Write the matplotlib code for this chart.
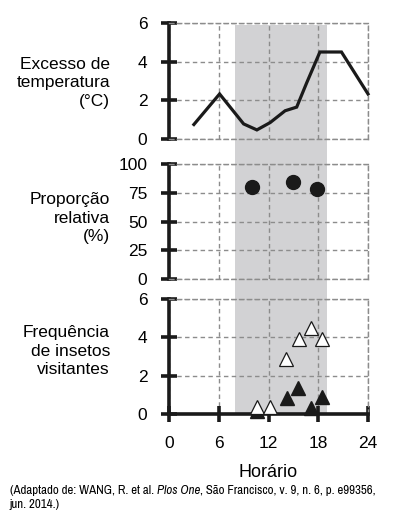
import matplotlib
matplotlib.use("Agg")
import matplotlib.pyplot as plt
from matplotlib.patches import Rectangle
from matplotlib.transforms import blended_transform_factory
from matplotlib import font_manager

plt.rcParams['font.family'] = ['Liberation Sans', 'DejaVu Sans']

# ---- data ----
temp_hours = [3.0, 6.1, 9.0, 10.6, 12.2, 14.0, 15.4, 16.6, 18.2, 20.8, 24.0]
temp_excess = [0.75, 2.33, 0.78, 0.47, 0.85, 1.46, 1.65, 2.9, 4.5, 4.5, 2.33]

prop_hours = [10.0, 14.9, 17.8]
prop_values = [80, 84, 78]

white_hours = [10.6, 12.2, 14.1, 15.7, 17.1, 18.4]
white_freq = [0.38, 0.38, 2.87, 3.9, 4.5, 3.9]

black_hours = [10.6, 14.2, 15.5, 17.1, 18.4]
black_freq = [0.15, 0.85, 1.35, 0.33, 0.9]

shade_start, shade_end = 8, 19
x_ticks = [0, 6, 12, 18, 24]
temp_ticks = [0, 2, 4, 6]
prop_ticks = [0, 25, 50, 75, 100]
freq_ticks = [0, 2, 4, 6]

ylabels = ["Excesso de\ntemperatura\n(°C)",
           "Proporção\nrelativa\n(%)",
           "Frequência\nde insetos\nvisitantes"]

caption_parts = ["(Adaptado de: WANG, R. et al. ", "Plos One",
                 ", São Francisco, v. 9, n. 6, p. e99356,"]
caption_line2 = "jun. 2014.)"

W, H = 395, 520
fig = plt.figure(figsize=(W / 100, H / 100), dpi=100)

left = 169 / W
width = (368 - 169) / W
panels_px = [(23, 139), (164, 279), (299, 414)]
label_centers_px = [83, 218, 351]
axes = []
for (t, b) in panels_px:
    ax = fig.add_axes([left, 1 - b / H, width, (b - t) / H])
    ax.patch.set_alpha(0)
    axes.append(ax)

GRAY = '#8c8c8c'
DASH = (0, (3.2, 2.4))
grid_kw = dict(color=GRAY, lw=1.0, ls=DASH)

for i, ax in enumerate(axes):
    ax.set_xlim(0, 24)
    ax.set_xticks(x_ticks)
    ax.grid(True, **grid_kw)
    for s in ['top', 'right', 'bottom']:
        ax.spines[s].set_color(GRAY)
        ax.spines[s].set_linewidth(1.0)
        ax.spines[s].set_linestyle(DASH)
    ax.spines['left'].set_linewidth(2.6)
    ax.spines['left'].set_color('#1a1a1a')
    ax.tick_params(axis='y', direction='inout', length=11, width=2.6,
                   color='#1a1a1a', pad=10, labelsize=12.5)
    if i < 2:
        ax.tick_params(axis='x', length=0, labelbottom=False)
    else:
        ax.spines['bottom'].set_linewidth(2.6)
        ax.spines['bottom'].set_color('#1a1a1a')
        ax.spines['bottom'].set_linestyle('-')
        ax.tick_params(axis='x', direction='inout', length=11, width=2.6,
                       color='#1a1a1a', pad=10, labelsize=12.5)
    ax.set_axisbelow(True)

# top: temperature
ax0 = axes[0]
ax0.set_ylim(0, 6)
ax0.set_yticks(temp_ticks)
ax0.plot(temp_hours, temp_excess, color='#1a1a1a', lw=2.3, zorder=3,
         solid_joinstyle='miter', clip_on=False)

# middle: proportion
ax1 = axes[1]
ax1.set_ylim(0, 100)
ax1.set_yticks(prop_ticks)
ax1.plot(prop_hours, prop_values, 'o', color='#1a1a1a', ms=10, zorder=3)

# bottom: insect frequency
ax2 = axes[2]
ax2.set_ylim(0, 6)
ax2.set_yticks(freq_ticks)
ax2.plot(black_hours, black_freq, '^', color='#1a1a1a', mec='#1a1a1a',
         ms=10.5, zorder=3, clip_on=False)
ax2.plot(white_hours, white_freq, '^', color='white', mec='#1a1a1a',
         mew=0.9, ms=10.5, zorder=4, clip_on=False)
ax2.set_xlabel("Horário", fontsize=13, labelpad=10)

# shaded period spanning all panels
trans = blended_transform_factory(ax2.transData, fig.transFigure)
y0 = 1 - 414 / H
y1 = 1 - 25 / H
fig.patches.append(Rectangle((shade_start, y0), shade_end - shade_start, y1 - y0,
                             transform=trans, facecolor='#d2d2d4',
                             edgecolor='none', zorder=-1))

# y labels
for cy, lab in zip(label_centers_px, ylabels):
    fig.text(110 / W, 1 - cy / H, lab, ha='right', va='center',
             fontsize=12.5, linespacing=1.3)

# caption (condensed font if available, else fitted size)
names = {f.name for f in font_manager.fontManager.ttflist}
narrow = [n for n in sorted(names) if ('Narrow' in n or 'Condensed' in n)]
cap_fam = ([narrow[0]] if narrow else []) + ['Liberation Sans', 'DejaVu Sans']
cap_size = 9.5
line1_y = 1 - 494 / H
line2_y = 1 - 508 / H
texts = []
for j, part in enumerate(caption_parts):
    texts.append(fig.text(10 / W, line1_y, part, fontsize=cap_size,
                          family=cap_fam, style='italic' if j == 1 else 'normal',
                          ha='left', va='baseline'))
t4 = fig.text(10 / W, line2_y, caption_line2, fontsize=cap_size,
              family=cap_fam, ha='left', va='baseline')

r = fig.canvas.get_renderer()
inv = fig.transFigure.inverted()


def layout_caption():
    x = 10 / W
    for t in texts:
        t.set_position((x, line1_y))
        x = inv.transform(t.get_window_extent(r))[1][0]
    return x


x_end = layout_caption()
target = 378 / W
scale = (target - 10 / W) / (x_end - 10 / W)
if scale < 1:
    for t in texts + [t4]:
        t.set_fontsize(cap_size * scale)
    layout_caption()

fig.savefig("out.png", dpi=100)
